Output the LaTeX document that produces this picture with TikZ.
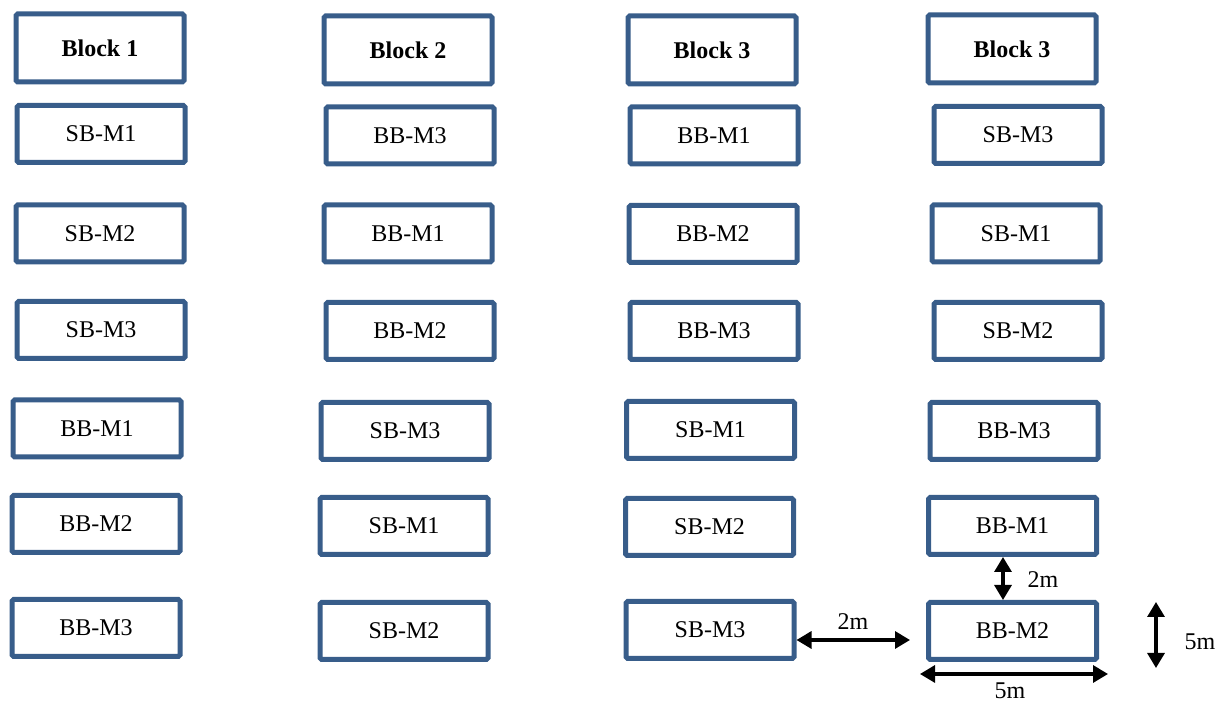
\documentclass[tikz,border=0pt]{standalone}
\usepackage{fontspec}
\setmainfont{Liberation Serif}
\usetikzlibrary{arrows.meta}
\definecolor{boxblue}{RGB}{56,93,138}
\begin{document}
\begin{tikzpicture}[x=0.5pt,y=-0.5pt,
  box/.style={draw=boxblue, line width=2.5pt, rounded corners=0.8pt, fill=white,
    minimum width=84pt, minimum height=28.5pt, inner sep=0pt,
    font=\fontsize{12}{14}\selectfont},
  head/.style={box, minimum height=34pt, font=\fontsize{12}{14}\selectfont\bfseries},
  dim/.style={line width=1.6pt, {Triangle[length=7.5pt,width=8.5pt]}-{Triangle[length=7.5pt,width=8.5pt]}},
  lbl/.style={font=\fontsize{12}{14}\selectfont, inner sep=0pt}]
\useasboundingbox (0,0) rectangle (1223,704);
% column 1
\node[head] (h1) at (100,48) {Block 1};
\node[box] (a1) at (101,134) {SB-M1};
\node[box] (a2) at (100,233.5) {SB-M2};
\node[box] (a3) at (101,330) {SB-M3};
\node[box] (a4) at (97,428.5) {BB-M1};
\node[box] (a5) at (96,524) {BB-M2};
\node[box] (a6) at (96,628) {BB-M3};
% column 2
\node[head] (h2) at (408,50) {Block 2};
\node[box] (b1) at (410,135.5) {BB-M3};
\node[box] (b2) at (408,233.5) {BB-M1};
\node[box] (b3) at (410,331) {BB-M2};
\node[box] (b4) at (405,431) {SB-M3};
\node[box] (b5) at (404,526) {SB-M1};
\node[box] (b6) at (404,631) {SB-M2};
% column 3
\node[head] (h3) at (712,50) {Block 3};
\node[box] (c1) at (714,135.5) {BB-M1};
\node[box] (c2) at (713,234) {BB-M2};
\node[box] (c3) at (714,331) {BB-M3};
\node[box] (c4) at (710.5,430) {SB-M1};
\node[box] (c5) at (709.5,527) {SB-M2};
\node[box] (c6) at (710,630) {SB-M3};
% column 4
\node[head] (h4) at (1012,49) {Block 3};
\node[box] (d1) at (1018,135) {SB-M3};
\node[box] (d2) at (1016,233.5) {SB-M1};
\node[box] (d3) at (1018,331) {SB-M2};
\node[box] (d4) at (1014,431) {BB-M3};
\node[box] (d5) at (1012.5,526) {BB-M1};
\node[box] (d6) at (1012.5,631) {BB-M2};
% dimension arrows
\coordinate (vx) at (1003,0);
\coordinate (hy) at (0,640);
\draw[dim] (d5.south -| vx) -- (d6.north -| vx);
\node[lbl] (l1) at (1043,580) {2m};
\draw[dim, shorten >=8pt] (c6.east |- hy) -- (d6.west |- hy);
\node[lbl] (l2) at (853,622) {2m};
\coordinate (v5a) at (1156,602);
\coordinate (v5b) at (1156,668);
\draw[dim] (v5a) -- (v5b);
\node[lbl] (l3) at (1200,642) {5m};
\coordinate (h5a) at (920,674);
\coordinate (h5b) at (1108,674);
\draw[dim] (h5a) -- (h5b);
\node[lbl] (l4) at (1010,691) {5m};
\end{tikzpicture}
\end{document}
